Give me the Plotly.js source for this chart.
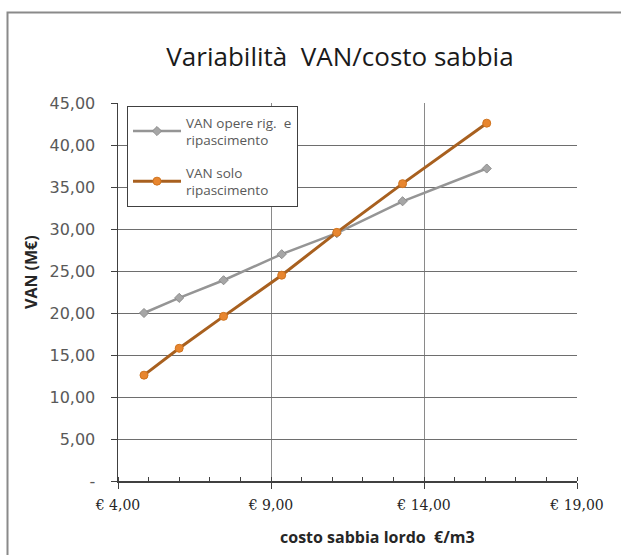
<!DOCTYPE html>
<html>
<head>
<meta charset="utf-8">
<script src="https://cdn.plot.ly/plotly-3.0.1.min.js"></script>
<style>
html,body{margin:0;padding:0;background:#fff;overflow:hidden;}
#chart{width:621px;height:555px;}
</style>
</head>
<body>
<div id="chart"></div>
<script>
// Data
var costoSabbia = [4.85, 6.0, 7.45, 9.35, 11.15, 13.3, 16.05];
var vanOpereRig = [20.0, 21.8, 23.9, 27.0, 29.5, 33.3, 37.2];
var vanSoloRip = [12.6, 15.8, 19.6, 24.5, 29.6, 35.4, 42.6];

var xTickVals = [4, 9, 14, 19];
var xTickText = ["€ 4,00", "€ 9,00", "€ 14,00", "€ 19,00"];
var yTickVals = [0, 5, 10, 15, 20, 25, 30, 35, 40, 45];
var yTickText = ["-", "5,00", "10,00", "15,00", "20,00", "25,00", "30,00", "35,00", "40,00", "45,00"];

var seriesNames = ["VAN opere rig.  e<br>ripascimento", "VAN solo<br>ripascimento"];

var L = 118, R = 577, T = 103, B = 481, W = 621, H = 555;
function px(x){ return (x - L) / (R - L); }
function py(y){ return (B - y) / (B - T); }

var traces = [
  {
    x: costoSabbia, y: vanOpereRig, name: seriesNames[0], legendgroup: "a",
    mode: "lines+markers", type: "scatter",
    line: {color: "#959595", width: 2.5},
    marker: {symbol: "diamond", size: 7, color: "#a6a6a6", line: {color: "#8c8c8c", width: 1}}
  },
  {
    x: costoSabbia, y: vanSoloRip, name: seriesNames[1], legendgroup: "b",
    mode: "lines+markers", type: "scatter",
    line: {color: "#a8601f", width: 3},
    marker: {symbol: "circle", size: 8, color: "#e8862f", line: {color: "#d0741f", width: 1}}
  }
];

var layout = {
  width: W, height: H,
  margin: {l: L, r: W - R, t: T, b: H - B, pad: 0},
  paper_bgcolor: "#ffffff", plot_bgcolor: "#ffffff",
  showlegend: true,
  title: {
    text: "Variabilità  VAN/costo sabbia",
    font: {family: "Open Sans", size: 26, color: "#1a1a1a"},
    xref: "paper", x: px(340), xanchor: "center",
    yref: "container", y: 1 - 57 / H, yanchor: "middle"
  },
  xaxis: {
    range: [4, 19], tickvals: xTickVals, ticktext: xTickText,
    showgrid: true, gridcolor: "#8a8a8a", gridwidth: 1,
    showline: true, linecolor: "#404040", linewidth: 1.5,
    ticks: "outside", ticklen: 6, tickcolor: "#404040",
    ticklabelstandoff: 5,
    tickfont: {family: "DejaVu Serif", size: 14, color: "#262626"},
    minor: {dtick: 1, tick0: 4, ticks: "inside", ticklen: 4, tickcolor: "#404040", showgrid: false},
    zeroline: false, fixedrange: true
  },
  yaxis: {
    range: [0, 45], tickvals: yTickVals, ticktext: yTickText,
    showgrid: true, gridcolor: "#6e6e6e", gridwidth: 1,
    showline: true, linecolor: "#404040", linewidth: 1.5,
    ticks: "outside", ticklen: 6, tickcolor: "#404040",
    ticklabelstandoff: 12,
    tickfont: {family: "DejaVu Sans", size: 16, color: "#595959"},
    zeroline: false, fixedrange: true
  },
  legend: {
    x: px(127), y: py(106), xanchor: "left", yanchor: "top",
    bgcolor: "#ffffff", bordercolor: "#404040", borderwidth: 1,
    font: {family: "Open Sans", size: 13.5, color: "#595959"},
    tracegroupgap: 12, itemwidth: 48,
    entrywidth: 140, entrywidthmode: "pixels"
  },
  annotations: [
    {
      text: "<b>VAN (M€)</b>", textangle: -90, showarrow: false,
      xref: "paper", yref: "paper", x: px(31), y: py(272),
      xanchor: "center", yanchor: "middle",
      font: {family: "Open Sans", size: 16, color: "#262626"}
    },
    {
      text: "<b>costo sabbia lordo  €/m3</b>", showarrow: false,
      xref: "paper", yref: "paper", x: px(377), y: py(537),
      xanchor: "center", yanchor: "middle",
      font: {family: "Open Sans", size: 16, color: "#262626"}
    }
  ],
  shapes: [
    {
      type: "rect", xref: "paper", yref: "paper", layer: "below",
      x0: px(7.5), x1: px(800), y0: py(12.5), y1: py(800),
      line: {color: "#8a8a8a", width: 2}, fillcolor: "rgba(0,0,0,0)"
    }
  ]
};

Plotly.newPlot("chart", traces, layout, {displayModeBar: false, staticPlot: true});
</script>
</body>
</html>
